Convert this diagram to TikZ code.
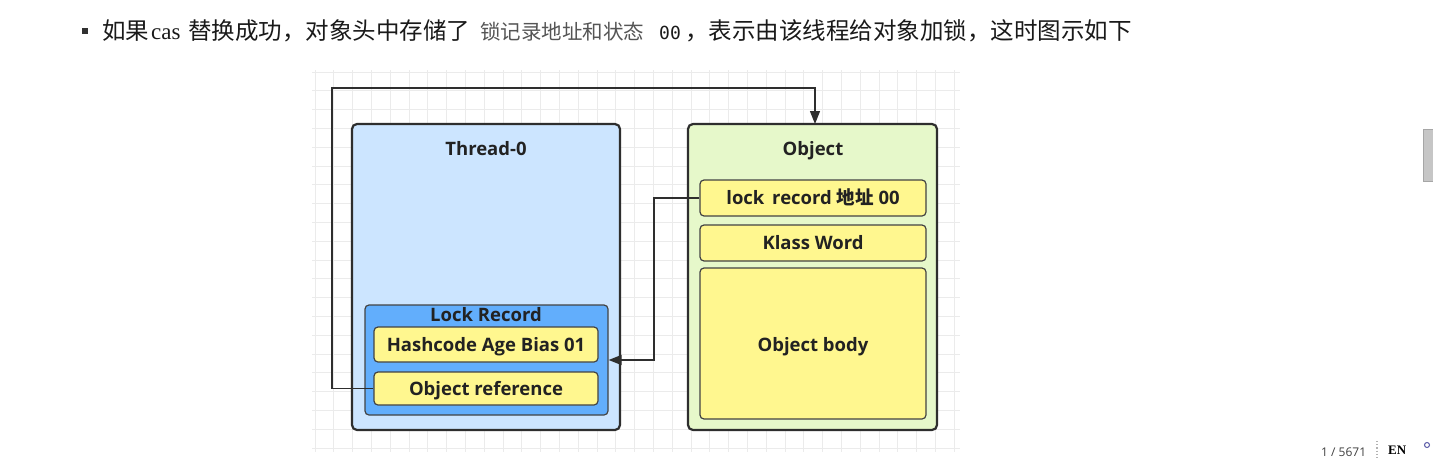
\documentclass[tikz,border=0pt]{standalone}
\usepackage{fontspec}
\setmainfont{Open Sans}
\newfontfamily\cjk{Noto Sans CJK SC}
\newfontfamily\serifl{Liberation Serif}
\newfontfamily\monof{DejaVu Sans Mono}
\newfontfamily\uisans{Open Sans}
\usetikzlibrary{arrows.meta}
\definecolor{threadfill}{HTML}{CCE5FF}
\definecolor{lrfill}{HTML}{62AEFC}
\definecolor{yel}{HTML}{FFF78F}
\definecolor{objfill}{HTML}{E6F8CA}
\definecolor{edgec}{HTML}{2E2E2E}
\definecolor{txtc}{HTML}{222222}
\definecolor{headc}{HTML}{1A1A1A}
\definecolor{grayc}{HTML}{555555}
\definecolor{gridc}{HTML}{EBEBEB}
\tikzset{
  outerbox/.style={draw=edgec, line width=2.2pt, rounded corners=5pt, inner sep=0pt},
  innerbox/.style={draw=edgec!90, line width=1.2pt, rounded corners=4pt, inner sep=0pt},
  lbl/.style={font=\uisans\fontsize{18.5}{21}\selectfont\bfseries, text=txtc, inner sep=0pt, text height=13.2pt, text depth=0pt},
  head/.style={inner sep=0pt, anchor=base west, text=headc},
  conn/.style={draw=edgec, line width=1.3pt},
  tip/.style={-{Triangle[length=13pt,width=10pt]}}
}
\begin{document}
\begin{tikzpicture}[x=1pt,y=-1pt]
\useasboundingbox[fill=white] (0,0) rectangle (1433,458);
% heading
\fill[fill=headc!90] (82,28) rectangle (88,34);
\node[head, font=\cjk\fontsize{23.5}{28}\selectfont] (h1) at (102,39.5) {如果};
\node[head, font=\serifl\fontsize{23}{26}\selectfont] (h2) at (151,39) {cas};
\node[head, font=\cjk\fontsize{23.5}{28}\selectfont] (h3) at (188,39.5) {替换成功，对象头中存储了};
\node[head, font=\cjk\fontsize{20.5}{24}\selectfont, text=grayc] (h4) at (480,39) {锁记录地址和状态};
\node[head, font=\monof\fontsize{18}{22}\selectfont] (h5) at (659,39) {00};
\node[head, font=\cjk\fontsize{23.5}{28}\selectfont] (h6) at (685,39.5) {，表示由该线程给对象加锁，这时图示如下};
% grid
\foreach \i in {0,...,34} {\draw[gridc, line width=0.8pt] (315+18.8*\i,70) -- (315+18.8*\i,452);}
\foreach \j in {0,...,20} {\draw[gridc, line width=0.8pt] (312,72+18.8*\j) -- (960,72+18.8*\j);}
% Thread-0
\node[outerbox, fill=threadfill, minimum width=268pt, minimum height=306pt] (thread) at (486,277) {};
\node[lbl] (threadt) at (486,149) {Thread-0};
\node[innerbox, fill=lrfill, minimum width=243pt, minimum height=110pt] (lr) at (486.5,360) {};
\node[lbl] (lrt) at (486,315) {Lock Record};
\node[innerbox, fill=yel, minimum width=224pt, minimum height=35pt] (hash) at (486,344.5) {};
\node[lbl] (hasht) at (486,345) {Hashcode Age Bias 01};
\node[innerbox, fill=yel, minimum width=224pt, minimum height=33pt] (oref) at (486,388.5) {};
\node[lbl] (oreft) at (486,389) {Object reference};
% Object
\node[outerbox, fill=objfill, minimum width=249pt, minimum height=306pt] (obj) at (812.5,277) {};
\node[lbl] (objt) at (813,149) {Object};
\node[innerbox, fill=yel, minimum width=226pt, minimum height=36pt] (lrec) at (813,198) {};
\node[lbl] (lrect) at (813,198) {lock\hspace{3pt} record {\cjk\bfseries 地址} 00};
\node[innerbox, fill=yel, minimum width=226pt, minimum height=36pt] (klass) at (813,243) {};
\node[lbl] (klasst) at (813,243) {Klass Word};
\node[innerbox, fill=yel, minimum width=226pt, minimum height=151pt] (body) at (813,343.5) {};
\node[lbl] (bodyt) at (813,345) {Object body};
% connectors
\coordinate (c1) at (332,88);
\coordinate (c1e) at (815,124);
\draw[conn, tip] (oref.west) -| (c1) -| (c1e);
\coordinate (c2) at (654,198);
\draw[conn, tip] (lrec.west) -- (c2) |- (lr.east);
% viewer chrome
\fill[fill=gray!45, draw=gray!70] (1423.5,129) rectangle (1435,181);
\node[inner sep=0pt, anchor=south west, font=\uisans\fontsize{12}{14}\selectfont, text=black!75] (pg) at (1321,457) {1 / 5671};
\draw[gray!60, line width=1.2pt, dotted] (1377,441) -- (1377,458);
\node[inner sep=0pt, anchor=north west, font=\serifl\fontsize{13}{15}\selectfont\bfseries] (en) at (1388,446) {EN};
\draw[gray!70!blue, line width=1pt] (1427,445) circle (2.5);
\end{tikzpicture}
\end{document}
